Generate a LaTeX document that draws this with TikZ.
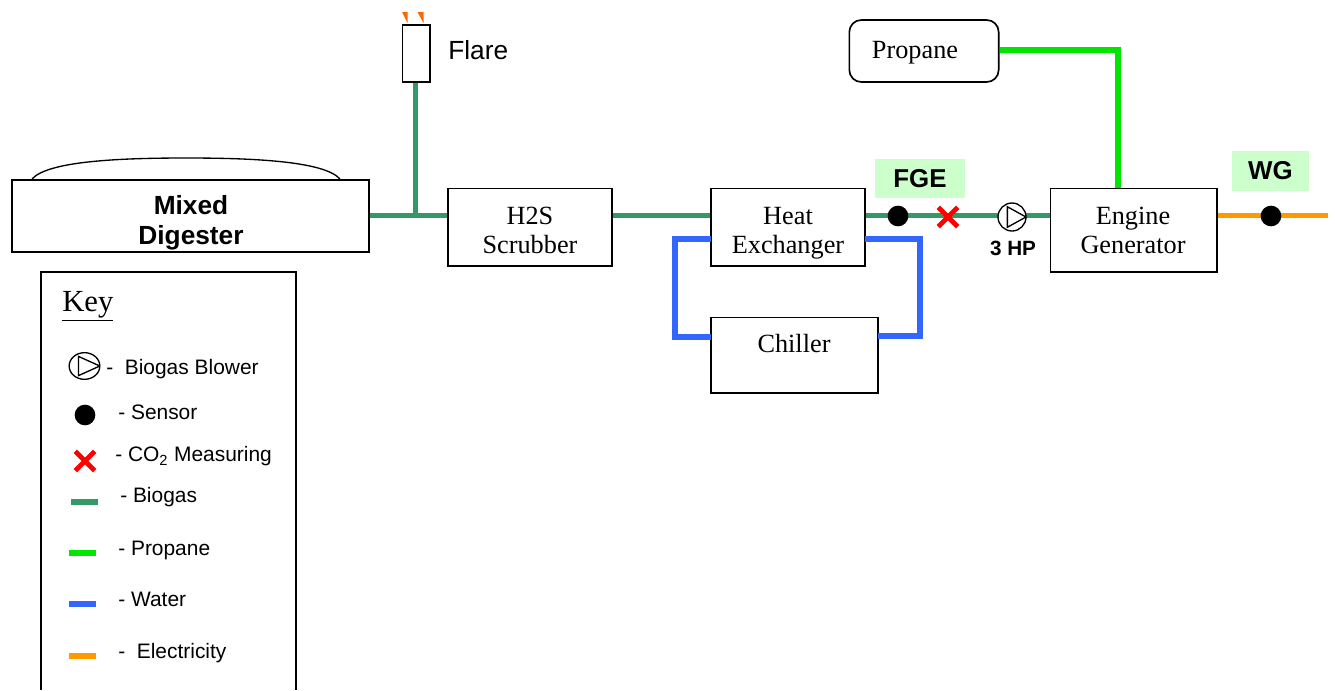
\documentclass[tikz,border=0pt]{standalone}
\usepackage{fontspec}
\setmainfont{Liberation Serif}
\setsansfont{Liberation Sans}
\usetikzlibrary{shapes.geometric,shapes.misc}
\definecolor{biogas}{HTML}{339966}
\definecolor{propane}{HTML}{00E600}
\definecolor{water}{HTML}{3366FF}
\definecolor{power}{HTML}{FF9900}
\definecolor{tag}{HTML}{CCFFCC}
\definecolor{flame}{HTML}{FF6600}
\tikzset{
  unit/.style={draw,line width=1.25pt,fill=white,inner sep=0pt},
  unittext/.style={inner sep=0pt,align=center,font=\fontsize{19.7}{21.75}\selectfont},
  heading/.style={font=\sffamily\bfseries\fontsize{19.7}{22.5}\selectfont,align=center,inner sep=0pt},
  tagbox/.style={fill=tag,inner sep=0pt,font=\sffamily\bfseries\fontsize{19.4}{22}\selectfont},
  keytext/.style={anchor=west,inner sep=0pt,font=\sffamily\fontsize{15.7}{18}\selectfont},
  pipe/.style={line width=4.2pt},
  sensor/.style={circle,fill=black,inner sep=0pt,minimum size=15.5pt},
  measure/.style={cross out,draw=red,line width=3.6pt,inner sep=0pt,minimum size=11pt},
  blower/.style={ellipse,draw,line width=1pt,fill=white,inner sep=0pt,minimum width=21pt,minimum height=21pt,
    path picture={\draw[line width=1pt]
      ([xshift=7pt,yshift=2.8pt]path picture bounding box.south west) --
      ([xshift=7pt,yshift=-2.8pt]path picture bounding box.north west) --
      (path picture bounding box.east) -- cycle;}}
}
\begin{document}
\begin{tikzpicture}[x=0.75pt,y=-0.75pt]
  \useasboundingbox (0,0) rectangle (1335,690);
  % units
  \node[unit,minimum width=267.75pt,minimum height=54pt] (digester) at (190.5,216) {};
  \node[heading] (digestertext) at (191,223) {Mixed\\Digester};
  \node[unit,minimum width=20.5pt,minimum height=42.5pt] (flare) at (416,53.5) {};
  \node[unit,minimum width=123pt,minimum height=58pt] (scrubber) at (530.3,227) {};
  \node[unittext] (scrubbertext) at (530,230) {H2S\\Scrubber};
  \node[unit,minimum width=115.5pt,minimum height=58pt] (exchanger) at (788,227) {};
  \node[unittext] (exchangertext) at (788,233) {Heat\\Exchanger};
  \node[unit,minimum width=125pt,minimum height=56.5pt] (chiller) at (794.5,355) {};
  \node[unittext] (chillertext) at (794,344) {Chiller};
  \node[unit,minimum width=124.75pt,minimum height=62.5pt] (engine) at (1133.5,230) {};
  \node[unittext] (enginetext) at (1133,230) {Engine\\Generator};
  \node[unit,rounded corners=9pt,minimum width=112pt,minimum height=46.5pt] (propane) at (924,51) {};
  \node[unittext] (propanetext) at (915,53) {Propane};
  \node[anchor=west,inner sep=0pt,font=\sffamily\fontsize{19.7}{22}\selectfont] (flaretext) at (448,50) {Flare};
  % tags
  \node[tagbox,minimum width=67.5pt,minimum height=29.25pt] (fge) at (920,178.5) {FGE};
  \node[tagbox,minimum width=57.75pt,minimum height=30pt] (wg) at (1270.5,171) {WG};
  % flame
  \fill[flame] (402,12) -- (407.5,12) -- (407.5,23) -- cycle;
  \fill[flame] (417.5,12) -- (423.5,12) -- (423.5,23) -- cycle;
  % dome
  \draw[line width=1pt] (32,179) .. controls (48,161) and (120,158) .. (186,158)
     .. controls (252,158) and (324,161) .. (340,179);
  % pipes
  \coordinate (tee) at (415.5,215.5);
  \coordinate (stub) at (1328,215.5);
  \coordinate (hxleft) at (711,239);
  \coordinate (hxright) at (865,239);
  \coordinate (chleft) at (711,337);
  \coordinate (chright) at (878,336);
  \coordinate (bend) at (1118,50);
  \draw[pipe,biogas] (digester.east |- tee) -- (tee) -- (scrubber.west |- tee);
  \draw[pipe,biogas] (tee) -- (tee |- flare.south);
  \draw[pipe,biogas] (scrubber.east |- tee) -- (exchanger.west |- tee);
  \draw[pipe,biogas] (exchanger.east |- tee) -- (engine.west |- tee);
  \draw[pipe,water] (hxleft) -- (675,239) -- (675,337) -- (chleft);
  \draw[pipe,water] (hxright) -- (920,239) -- (920,336) -- (chright);
  \draw[pipe,propane] (propane.east |- bend) -- (bend) -- (bend |- engine.north);
  \draw[pipe,power] (engine.east |- tee) -- (stub);
  % line items
  \node[sensor] (sensorfge) at (898,216) {};
  \node[measure] (co2) at (948,217) {};
  \node[blower] (blowerfge) at (1012,217) {};
  \node[sensor] (sensorwg) at (1271,216) {};
  \node[inner sep=0pt,font=\sffamily\bfseries\fontsize{15.5}{18}\selectfont] (hp) at (1013,248) {3 HP};
  % key
  \draw[line width=1.25pt] (41,690) -- (41,272) -- (296,272) -- (296,690);
  \node[anchor=west,inner sep=0pt,font=\fontsize{23}{26}\selectfont] (keytitle) at (62,306) {\underline{Key}};
  \node[blower,minimum width=23pt,minimum height=20pt] (keyblower) at (84.5,366) {};
  \node[sensor] (keysensor) at (85,415) {};
  \node[measure] (keyco2) at (85,461) {};
  \foreach \c/\a/\y in {biogas/71/502,propane/69/553,water/69/604,power/69/656}
    \draw[pipe,\c] (\a,\y) -- ++(27,0);
  \node[keytext] (t1) at (106,369) {-\ \ Biogas Blower};
  \node[keytext] (t2) at (118,412) {- Sensor};
  \node[keytext] (t3) at (115,456) {- CO\textsubscript{2} Measuring};
  \node[keytext] (t4) at (120,497) {- Biogas};
  \node[keytext] (t5) at (118,550) {- Propane};
  \node[keytext] (t6) at (118,599) {- Water};
  \node[keytext] (t7) at (118,653) {-\ \ Electricity};
\end{tikzpicture}
\end{document}
